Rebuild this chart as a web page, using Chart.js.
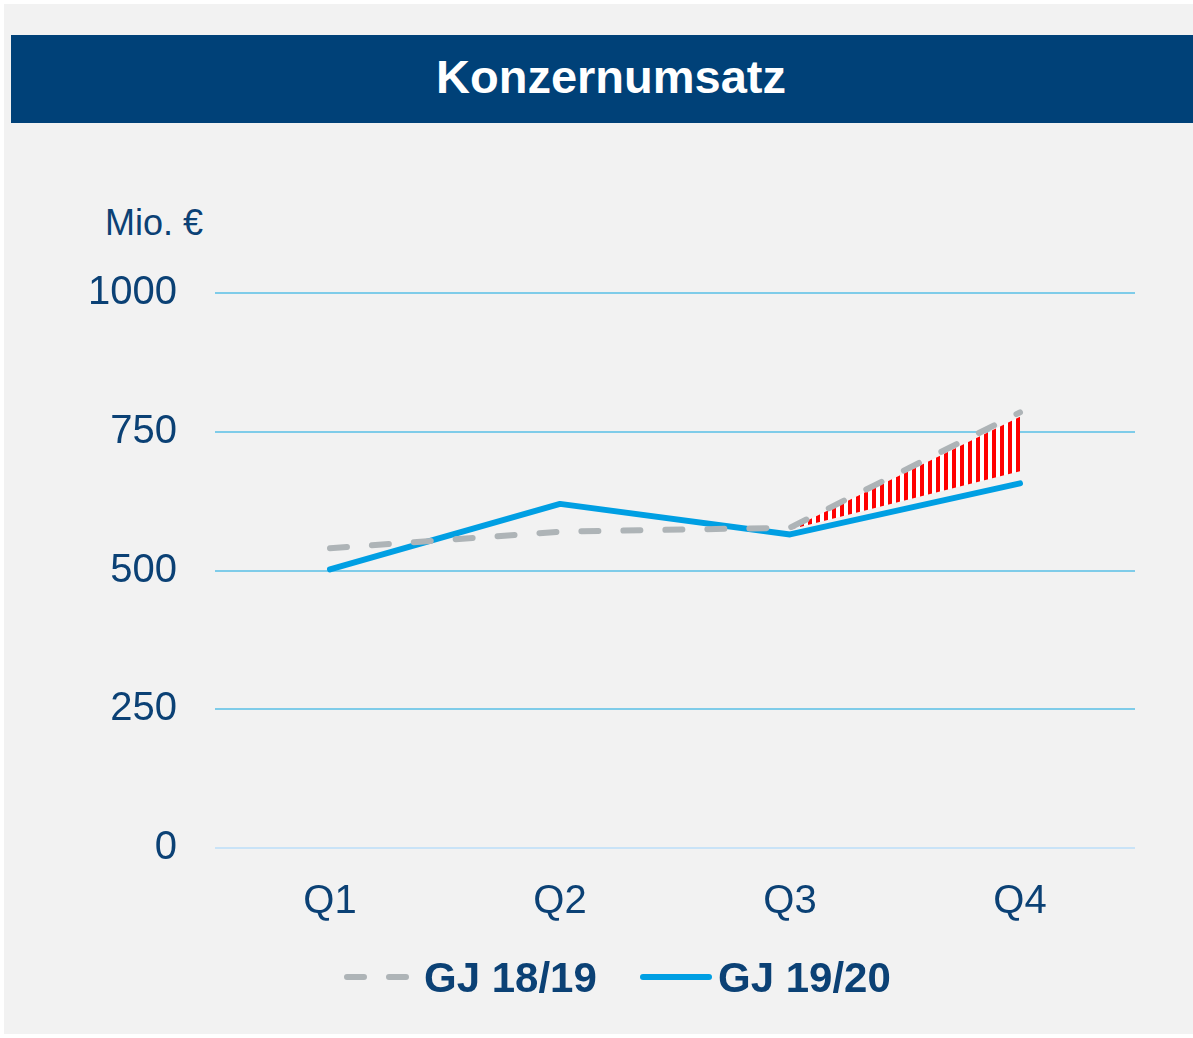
<!DOCTYPE html>
<html>
<head>
<meta charset="utf-8">
<script src="https://cdn.jsdelivr.net/npm/chart.js@4.4.1/dist/chart.umd.min.js"></script>
<style>
  body { margin: 0; width: 1193px; height: 1038px; background: #fff; overflow: hidden;
         font-family: "Liberation Sans", Arial, sans-serif; position: relative; }
  .panel { position: absolute; left: 4px; top: 4px; width: 1189px; height: 1030px; background: #f2f2f2; }
  .titlebar { position: absolute; left: 11px; top: 35px; width: 1182px; height: 88px; background: #004178; }
  .title { position: absolute; left: 11px; top: 53px; width: 1200px; text-align: center;
           color: #fff; font-weight: bold; font-size: 47px; line-height: 47px; }
  .unit { position: absolute; left: 105px; top: 205px; font-size: 36px; line-height: 36px; color: #0b4175; }
  #chart { position: absolute; left: 0; top: 0; }
  .lg-text { position: absolute; top: 957px; font-size: 42px; line-height: 42px; font-weight: bold; color: #0b4175; }
  svg.lg { position: absolute; left: 0; top: 0; }
</style>
</head>
<body>
<div class="panel"></div>
<div class="titlebar"></div>
<div class="title">Konzernumsatz</div>
<div class="unit">Mio. €</div>
<canvas id="chart" width="1193" height="1038"></canvas>

<svg class="lg" width="1193" height="1038">
  <line x1="347" y1="977" x2="412" y2="977" stroke="#aeb4b7" stroke-width="6" stroke-linecap="round" stroke-dasharray="17 25"></line>
  <line x1="643" y1="977" x2="709" y2="977" stroke="#009fe3" stroke-width="6" stroke-linecap="round"></line>
</svg>
<div class="lg-text" style="left:424px">GJ 18/19</div>
<div class="lg-text" style="left:718px">GJ 19/20</div>

<script>
// data
const quarters = ["Q1", "Q2", "Q3", "Q4"];
const gj1819 = [540, 570, 577, 785];
const gj1920 = [502, 620, 565, 657];
// red hatched gap between the two years in Q3-Q4
const gapTop = [null, null, 575, 777];
const gapBottom = [null, null, 574, 679];
const yTicks = [0, 250, 500, 750, 1000];

const textColor = "#0b4175";

// vertical red stripes
function stripePattern() {
  const c = document.createElement("canvas");
  c.width = 8;
  c.height = 8;
  const g = c.getContext("2d");
  g.fillStyle = "#ffffff";
  g.fillRect(0, 0, 8, 8);
  g.fillStyle = "#ff0000";
  g.fillRect(0, 0, 4, 8);
  return g.createPattern(c, "repeat");
}

const ctx = document.getElementById("chart");

new Chart(ctx, {
  type: "line",
  data: {
    labels: quarters,
    datasets: [
      {
        label: "GJ 18/19",
        data: gj1819,
        borderColor: "#aeb4b7",
        borderWidth: 6,
        borderDash: [17, 25],
        borderCapStyle: "round",
        pointRadius: 0,
        fill: false,
      },
      {
        label: "GJ 19/20",
        data: gj1920,
        borderColor: "#009fe3",
        borderWidth: 6,
        borderCapStyle: "round",
        borderJoinStyle: "round",
        pointRadius: 0,
        fill: false,
      },
      {
        label: "gap",
        data: gapTop,
        borderWidth: 0,
        borderColor: "rgba(0,0,0,0)",
        pointRadius: 0,
        backgroundColor: stripePattern(),
        fill: 3,
      },
      {
        label: "gapBase",
        data: gapBottom,
        borderWidth: 0,
        borderColor: "rgba(0,0,0,0)",
        pointRadius: 0,
        fill: false,
      },
    ],
  },
  options: {
    responsive: false,
    animation: false,
    layout: { padding: { left: 0, top: 293, right: 58, bottom: 90 } },
    plugins: {
      legend: { display: false },
      tooltip: { enabled: false },
    },
    scales: {
      x: {
        offset: true,
        grid: { display: false, drawTicks: false },
        border: { display: false },
        ticks: {
          padding: 30,
          color: textColor,
          font: { family: "Liberation Sans", size: 40 },
        },
        afterFit: (scale) => { scale.height = 100; },
      },
      y: {
        min: 0,
        max: 1000,
        afterBuildTicks: (scale) => { scale.ticks = yTicks.map((v) => ({ value: v })); },
        grid: {
          drawTicks: false,
          lineWidth: 2,
          color: (c) => (c.tick && c.tick.value === 0 ? "#c9e3f7" : "#7fcce9"),
        },
        border: { display: false },
        ticks: {
          padding: 38,
          color: textColor,
          font: { family: "Liberation Sans", size: 40 },
          callback: (v) => String(v),
        },
        afterFit: (scale) => { scale.width = 215; },
      },
    },
  },
});
</script>
</body>
</html>
